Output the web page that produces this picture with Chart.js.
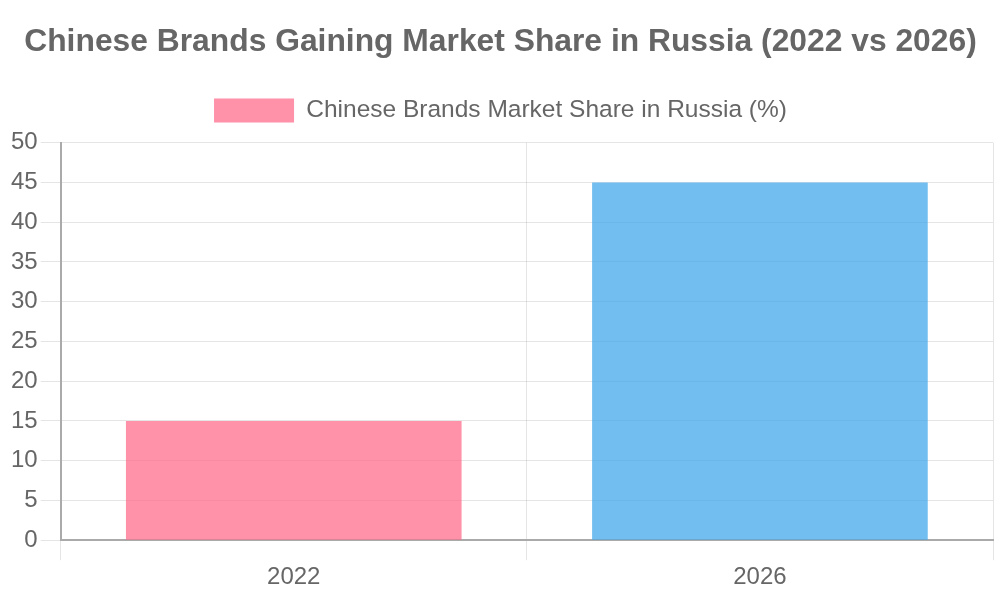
<!DOCTYPE html>
<html>
<head>
<meta charset="utf-8">
<script src="https://cdn.jsdelivr.net/npm/chart.js@4/dist/chart.umd.min.js"></script>
<style>
html,body{margin:0;padding:0;background:#fff;}
#wrap{width:1000px;height:600px;position:relative;}
</style>
</head>
<body>
<div id="wrap"><canvas id="c"></canvas></div>
<script>
const categories = ["2022", "2026"];
const shareValues = [15, 45];
const seriesLabel = "Chinese Brands Market Share in Russia (%)";
const barColors = ["rgba(255, 99, 132, 0.7)", "rgba(54, 162, 235, 0.7)"];

Chart.defaults.font.family = "'Liberation Sans', Arial, sans-serif";
Chart.defaults.color = "#666";

const legendSpacer = {
  id: 'legendSpacer',
  beforeInit(chart) {
    const origFit = chart.legend.fit;
    chart.legend.fit = function () {
      origFit.bind(chart.legend)();
      this.height += 10;
    };
  }
};

new Chart(document.getElementById('c'), {
  type: 'bar',
  data: {
    labels: categories,
    datasets: [{
      label: seriesLabel,
      data: shareValues,
      backgroundColor: barColors,
      borderWidth: 0
    }]
  },
  plugins: [legendSpacer],
  options: {
    responsive: true,
    maintainAspectRatio: false,
    animation: false,
    layout: { padding: { left: 8, right: 7, top: 13, bottom: 5 } },
    plugins: {
      title: {
        display: true,
        text: "Chinese Brands Gaining Market Share in Russia (2022 vs 2026)",
        font: { size: 31.8, weight: 'bold' },
        color: '#666',
        padding: { top: 10, bottom: 27 }
      },
      legend: {
        labels: { font: { size: 24.5 }, boxWidth: 80, boxHeight: 24, color: '#666', padding: 10 }
      }
    },
    scales: {
      x: {
        ticks: { font: { size: 24 } },
        grid: { tickLength: 20, color: 'rgba(0,0,0,0.1)' },
        border: { color: '#aaa', width: 2 }
      },
      y: {
        beginAtZero: true, max: 50,
        ticks: { stepSize: 5, font: { size: 24 } },
        grid: { tickLength: 20, color: 'rgba(0,0,0,0.1)' },
        border: { color: '#aaa', width: 2 }
      }
    }
  }
});
</script>
</body>
</html>
